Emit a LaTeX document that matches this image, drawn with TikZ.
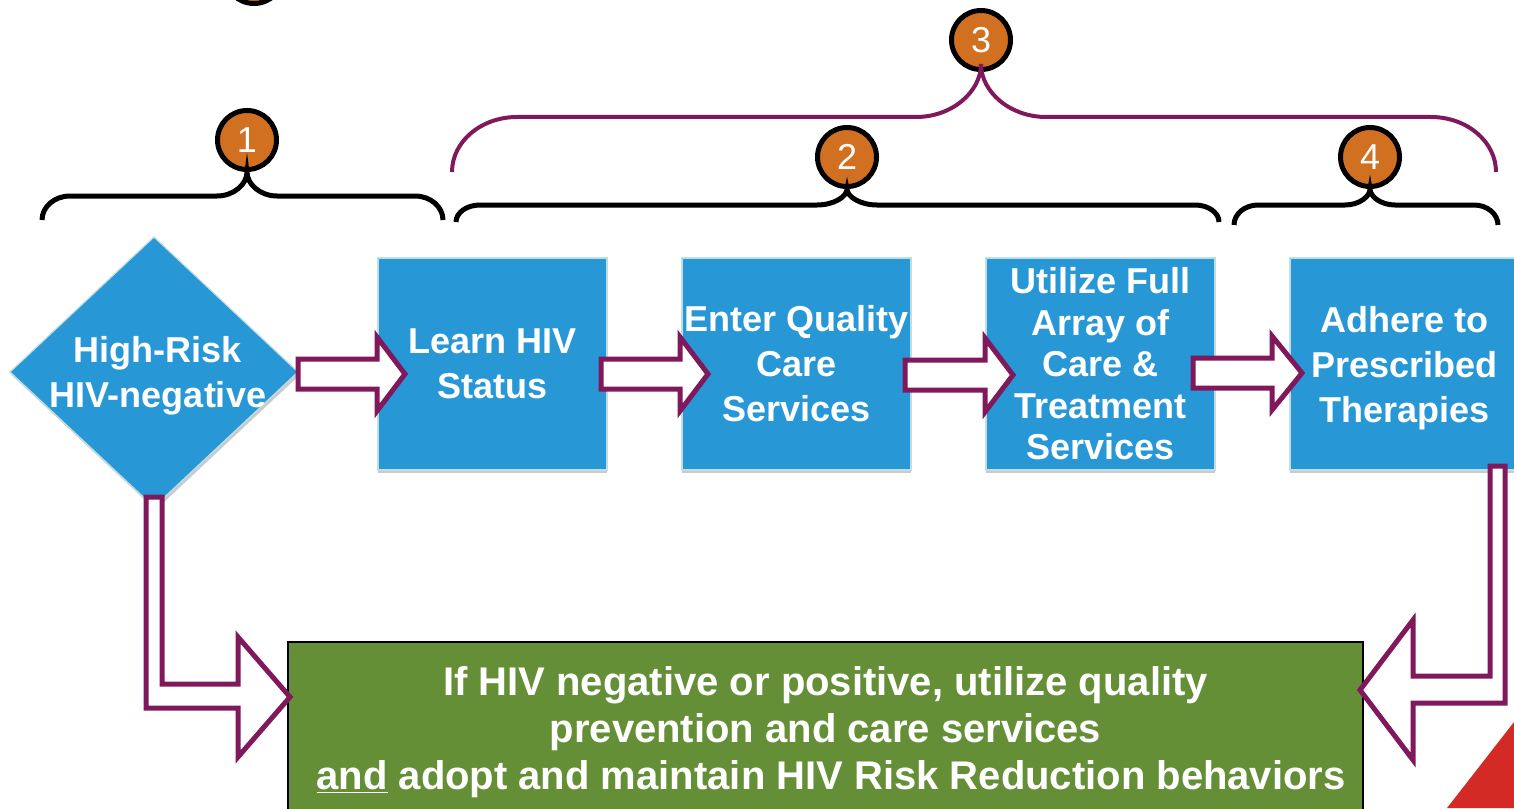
\documentclass[tikz,border=0pt]{standalone}
\usepackage{fontspec}
\setmainfont{Liberation Sans}
\usetikzlibrary{positioning,calc,shapes.geometric}

\definecolor{stepblue}{RGB}{40,151,214}
\definecolor{edgegray}{RGB}{190,222,226}
\definecolor{shadegray}{RGB}{200,204,204}
\definecolor{goalgreen}{RGB}{100,143,54}
\definecolor{dotorange}{RGB}{210,112,34}
\definecolor{plum}{RGB}{128,24,92}
\definecolor{cornerred}{RGB}{212,42,38}

\begin{document}
\begin{tikzpicture}[
		x=0.5pt,y=-0.5pt,
		node distance=37.5pt,
		stepbox/.style={rectangle,fill=stepblue,draw=edgegray,line width=0.6pt,outer sep=0pt,
			minimum width=114.5pt,minimum height=106pt,inner sep=0pt,text=white,align=center,
			font=\bfseries\fontsize{18}{22.5}\selectfont,
			preaction={fill=shadegray,transform canvas={yshift=-1.5pt}}},
		riskshape/.style={diamond,fill=stepblue,draw=edgegray,line width=0.6pt,outer sep=0pt,
			minimum width=144pt,minimum height=135pt,inner sep=0pt,
			preaction={fill=shadegray,transform canvas={xshift=0.8pt,yshift=-1.5pt}}},
		risklabel/.style={text=white,align=center,font=\bfseries\fontsize{18}{22.5}\selectfont},
		goalbox/.style={rectangle,fill=goalgreen,draw=black,line width=0.8pt,outer sep=0pt,
			minimum width=537.5pt,minimum height=90pt,inner sep=0pt,text=white,align=center,
			font=\bfseries\fontsize{20}{23.5}\selectfont},
		numdot/.style={circle,fill=dotorange,draw=black,line width=2.5pt,minimum size=29.5pt,
			inner sep=0pt,text=white,font=\fontsize{18}{18}\selectfont},
		brace/.style={draw=black,line width=2.5pt},
		bigbrace/.style={draw=plum,line width=2pt},
		fatarrow/.style={draw=plum,fill=white,line width=2.5pt,line join=miter}
		]
		\useasboundingbox (0,0) rectangle (1514,808);
		\clip (0,0) rectangle (1514,808);
		
		% steps
		\node[riskshape] (risk) at (154,372) {};
		\node[risklabel] (risktext) at (158,376) {High-Risk\\HIV-negative};
		\node[stepbox] (learn) at (492.5,364) {Learn HIV\\Status};
		\node[stepbox,right=of learn] (enter) {Enter Quality\\Care\\Services};
		\node[stepbox,right=of enter,font=\bfseries\fontsize{18}{20.75}\selectfont] (utilize) {Utilize Full\\Array of\\Care \&\\Treatment\\Services};
		\node[stepbox,right=of utilize,text depth=-3pt] (adhere) {Adhere to\\Prescribed\\Therapies};
		\node[goalbox,anchor=north west] (goal) at (288,642) {If HIV negative or positive, utilize quality\\prevention and care services\\\ \underline{and} adopt and maintain HIV Risk Reduction behaviors};
		
		% corner
		\fill[cornerred] (1447,808) -- (1514,722) -- (1514,808) -- cycle;
		
		% numbers
		\node[numdot] (n0) at (254,-26) {};
		\node[numdot] (n1) at (247,140) {1};
		\node[numdot] (n2) at (847,157) {2};
		\node[numdot] (n3) at (981,40) {3};
		\node[numdot] (n4) at (1370,157) {4};
		
		% braces
		\draw[brace] (42,220) .. controls (42,206.8) and (54.5,196) .. (70,196) -- (217,196)
			.. controls (233.6,196) and (247,184.4) .. (n1.south)
			.. controls (247,184.4) and (260.4,196) .. (277,196) -- (415,196)
			.. controls (430.5,196) and (443,206.8) .. (443,220);
		\draw[brace] (456,222) .. controls (456,212.6) and (466.8,205) .. (480,205) -- (817,205)
			.. controls (833.6,205) and (847,196.8) .. (n2.south)
			.. controls (847,196.8) and (860.4,205) .. (877,205) -- (1195,205)
			.. controls (1208.2,205) and (1219,212.6) .. (1219,222);
		\draw[brace] (1234,225) .. controls (1234,214) and (1244.8,205) .. (1258,205) -- (1345,205)
			.. controls (1358.8,205) and (1370,196.8) .. (n4.south)
			.. controls (1370,196.8) and (1381.2,205) .. (1395,205) -- (1474,205)
			.. controls (1487.2,205) and (1498,214) .. (1498,225);
		\draw[bigbrace] (452,172) .. controls (452,141.6) and (481.1,117) .. (517,117) -- (916,117)
			.. controls (951.9,117) and (981,91.9) .. ($(n3.south)+(0,-8)$)
			.. controls (981,91.9) and (1010.1,117) .. (1046,117) -- (1431,117)
			.. controls (1466.9,117) and (1496,141.6) .. (1496,172);
		
		% arrows between steps
		\coordinate (t1) at ($(learn.west)+(27,10)$);
		\draw[fatarrow] ($(risk.east |- t1)+(0,-15)$) -- ($(t1)+(-28,-15)$) -- ($(t1)+(-28,-37)$) -- (t1)
			-- ($(t1)+(-28,37)$) -- ($(t1)+(-28,15)$) -- ($(risk.east |- t1)+(0,15)$) -- cycle;
		\coordinate (t2) at ($(enter.west)+(26,10)$);
		\draw[fatarrow] ($(learn.east |- t2)+(-6,-15)$) -- ($(t2)+(-28,-15)$) -- ($(t2)+(-28,-37)$) -- (t2)
			-- ($(t2)+(-28,37)$) -- ($(t2)+(-28,15)$) -- ($(learn.east |- t2)+(-6,15)$) -- cycle;
		\coordinate (t3) at ($(utilize.west)+(27,11)$);
		\draw[fatarrow] ($(enter.east |- t3)+(-6,-15)$) -- ($(t3)+(-28,-15)$) -- ($(t3)+(-28,-37)$) -- (t3)
			-- ($(t3)+(-28,37)$) -- ($(t3)+(-28,15)$) -- ($(enter.east |- t3)+(-6,15)$) -- cycle;
		\coordinate (t4) at ($(adhere.west)+(12,9)$);
		\draw[fatarrow] ($(utilize.east |- t4)+(-22,-15)$) -- ($(t4)+(-30,-15)$) -- ($(t4)+(-30,-37)$) -- (t4)
			-- ($(t4)+(-30,37)$) -- ($(t4)+(-30,15)$) -- ($(utilize.east |- t4)+(-22,15)$) -- cycle;
		
		% bent arrows into the goal
		\coordinate (ltop) at ($(risk.south)+(0,-10)$);
		\coordinate (ltip) at ($(goal.north west)+(2,55)$);
		\draw[fatarrow] ($(ltop)+(-8,0)$) -- ($(ltop)+(8,0)$) -- ($(ltop |- ltip)+(8,-13)$) -- ($(ltip)+(-52,-13)$)
			-- ($(ltip)+(-52,-60)$) -- (ltip) -- ($(ltip)+(-52,60)$) -- ($(ltip)+(-52,11)$)
			-- ($(ltop |- ltip)+(-8,11)$) -- cycle;
		\coordinate (rtop) at ($(adhere.south east)+(-22,-4)$);
		\coordinate (rtip) at ($(goal.north east)+(-3,48)$);
		\draw[fatarrow] ($(rtop)+(-7,0)$) -- ($(rtop)+(8,0)$) -- ($(rtop |- rtip)+(8,13)$) -- ($(rtip)+(53,13)$)
			-- ($(rtip)+(53,70)$) -- (rtip) -- ($(rtip)+(53,-70)$) -- ($(rtip)+(53,-14)$)
			-- ($(rtop |- rtip)+(-7,-14)$) -- cycle;
		\end{tikzpicture}
\end{document}
